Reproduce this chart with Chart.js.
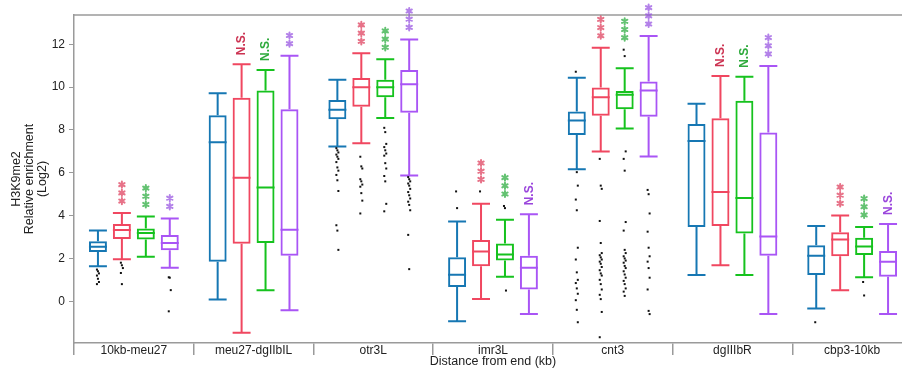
<!DOCTYPE html>
<html>
<head>
<meta charset="utf-8">
<script src="https://cdn.jsdelivr.net/npm/chart.js@4.4.1/dist/chart.umd.min.js"></script>
<style>
  html, body { margin: 0; padding: 0; background: #fff; overflow: hidden; }
  #wrap { width: 914px; height: 370px; }
</style>
</head>
<body>
<div id="wrap"><canvas id="c" width="914" height="370"></canvas></div>
<script>
// H3K9me2 enrichment box plots per region, 4 strains each
const categories = ["10kb-meu27", "meu27-dgIIbIL", "otr3L", "imr3L", "cnt3", "dgIIIbR", "cbp3-10kb"];

// [lower whisker, q1, median, q3, upper whisker]
const blueBox = [
  [1.63, 2.30, 2.55, 2.80, 3.31], [0.08, 1.85, 7.43, 8.69, 9.72], [7.23, 8.50, 8.94, 9.40, 10.34],
  [-0.93, 0.67, 1.24, 2.05, 3.73], [6.17, 7.77, 8.44, 8.86, 10.44], [1.23, 3.47, 7.48, 8.28, 9.22],
  [-0.34, 1.23, 2.13, 2.61, 3.52],
];
const redBox = [
  [1.96, 2.91, 3.33, 3.61, 4.12], [-1.47, 2.68, 5.77, 9.50, 11.07], [7.38, 9.09, 10.0, 10.43, 11.58],
  [0.11, 1.63, 2.32, 2.86, 4.55], [6.99, 8.67, 9.53, 9.98, 11.84], [1.68, 3.52, 5.10, 8.55, 10.52],
  [0.51, 2.10, 2.88, 3.22, 4.01],
];
const greenBox = [
  [2.08, 2.88, 3.19, 3.40, 3.96], [0.51, 2.72, 5.31, 9.84, 10.80], [8.56, 9.53, 10.0, 10.34, 11.30],
  [1.14, 1.90, 2.18, 2.70, 3.81], [8.07, 8.97, 9.65, 9.82, 10.88], [1.23, 3.16, 4.82, 9.37, 10.48],
  [1.12, 2.16, 2.56, 2.97, 3.47],
];
const purpleBox = [
  [1.56, 2.38, 2.72, 3.10, 3.87], [-0.42, 2.13, 3.34, 8.97, 11.47], [5.87, 8.81, 10.13, 10.80, 12.23],
  [-0.59, 0.55, 1.56, 2.13, 4.06], [6.76, 8.62, 9.84, 10.26, 12.39], [-0.60, 2.13, 3.02, 7.88, 10.99],
  [-0.60, 1.15, 1.85, 2.35, 3.61],
];

// outliers per region
const blueOut = [
  [1.48, 1.4, 1.3, 1.2, 1.05, 0.9, 0.8], [],
  [7.15, 7.05, 6.95, 6.85, 6.75, 6.65, 6.5, 6.25, 6.1, 5.9, 5.65, 5.15, 3.55, 3.3, 2.4],
  [5.13, 4.35],
  [10.72, 6.03, 5.4, 4.75, 4.25, 2.5, 1.95, 1.35, 1.0, 0.85, 0.6, 0.35, 0.05, -0.4, -0.98],
  [], [-0.98],
];
const redOut = [
  [1.8, 1.68, 1.55, 1.32, 0.8], [],
  [6.75, 6.3, 6.2, 5.7, 5.6, 5.45, 5.35, 5.05, 4.7, 4.1],
  [5.13],
  [6.65, 5.4, 5.25, 3.75, 2.72, 2.25, 2.15, 2.05, 1.95, 1.85, 1.75, 1.6, 1.45, 1.3, 1.2, 1.0, 0.8, 0.55, 0.3, 0.1, -0.5, -1.68],
  [], [],
];
const greenOut = [
  [], [],
  [8.1, 7.9, 7.35, 7.2, 7.05, 6.9, 6.8, 6.45, 6.2, 5.85, 5.6, 4.55, 4.2],
  [4.45, 4.35, 0.5],
  [11.75, 11.45, 7.0, 6.65, 6.1, 3.7, 3.3, 2.4, 2.25, 2.1, 2.0, 1.9, 1.8, 1.65, 1.55, 1.4, 1.25, 1.1, 0.95, 0.8, 0.6, 0.45, 0.25],
  [], [0.9, 0.27],
];
const purpleOut = [
  [1.12, 1.1, 0.52, -0.47], [],
  [5.8, 5.7, 5.6, 5.5, 5.4, 5.25, 5.1, 4.95, 4.8, 4.65, 4.5, 4.25, 3.1, 1.5],
  [],
  [5.2, 5.0, 4.1, 3.25, 2.5, 2.1, 1.85, 1.55, 1.1, 0.55, -0.45, -0.6],
  [], [],
];

// significance vs. the blue strain
const blueSig = ["", "", "", "", "", "", ""];
const redSig = ["***", "N.S.", "***", "***", "***", "N.S.", "***"];
const greenSig = ["***", "N.S.", "***", "***", "***", "N.S.", "***"];
const purpleSig = ["**", "**", "***", "N.S.", "***", "***", "N.S."];

const yTicks = [0, 2, 4, 6, 8, 10, 12];

const SERIES = [
  { box: blueBox, out: blueOut, sig: blueSig, color: "#1677b3", star: "rgba(22,119,179,0.7)", ns: "#1677b3" },
  { box: redBox, out: redOut, sig: redSig, color: "#f04760", star: "rgba(222,60,90,0.72)", ns: "#cc3352" },
  { box: greenBox, out: greenOut, sig: greenSig, color: "#16c21e", star: "rgba(40,170,60,0.72)", ns: "#2eaa3c" },
  { box: purpleBox, out: purpleOut, sig: purpleSig, color: "#a955f5", star: "rgba(150,80,225,0.72)", ns: "#9a45dc" },
];

const AXIS = "#9a9a9a";
const FONT = "'Liberation Sans', Arial, Helvetica, sans-serif";

// whiskers, medians, outliers and significance marks on top of the floating bars
const boxPlot = {
  id: "boxPlot",
  afterDatasetsDraw(chart) {
    const { ctx, chartArea, scales: { y } } = chart;
    const py = (v) => y.getPixelForValue(v);

    // top frame line
    ctx.save();
    ctx.strokeStyle = AXIS; ctx.lineWidth = 1.5;
    ctx.beginPath(); ctx.moveTo(chartArea.left, chartArea.top); ctx.lineTo(chartArea.right, chartArea.top); ctx.stroke();
    ctx.restore();

    SERIES.forEach((s, i) => {
      chart.getDatasetMeta(i).data.forEach((bar, k) => {
        const [lo, q1, med, q3, hi] = s.box[k];
        const x = bar.x, half = bar.width / 2;
        ctx.save();
        ctx.strokeStyle = s.color; ctx.lineWidth = 2;
        ctx.beginPath();
        ctx.moveTo(x, py(q3)); ctx.lineTo(x, py(hi));
        ctx.moveTo(x, py(q1)); ctx.lineTo(x, py(lo));
        ctx.moveTo(x - half, py(hi)); ctx.lineTo(x + half, py(hi));
        ctx.moveTo(x - half, py(lo)); ctx.lineTo(x + half, py(lo));
        ctx.moveTo(x - half, py(med)); ctx.lineTo(x + half, py(med));
        ctx.stroke();

        ctx.fillStyle = "#111";
        s.out[k].forEach((v, j) => {
          ctx.fillRect(x - 1 + ((j % 3) - 1), py(v) - 1, 2, 2);
        });

        const label = s.sig[k];
        const top = py(Math.max(hi, ...s.out[k]));
        if (label.startsWith("*")) {
          ctx.strokeStyle = s.star; ctx.lineWidth = 2; ctx.lineCap = "round";
          for (let n = 0; n < label.length; n++) {
            const cy = top - 12 - n * 8.2, r = 3.1;
            ctx.beginPath();
            [90, 30, 150].forEach((a) => {
              const rad = (a * Math.PI) / 180;
              ctx.moveTo(x + r * Math.cos(rad), cy - r * Math.sin(rad));
              ctx.lineTo(x - r * Math.cos(rad), cy + r * Math.sin(rad));
            });
            ctx.stroke();
          }
        } else if (label) {
          ctx.translate(x, top - 9);
          ctx.rotate(-Math.PI / 2);
          ctx.fillStyle = s.ns;
          ctx.font = "bold 12px " + FONT;
          ctx.textAlign = "left"; ctx.textBaseline = "middle";
          ctx.fillText(label, 0, 0.5);
        }
        ctx.restore();
      });
    });
  },
};

new Chart(document.getElementById("c"), {
  type: "bar",
  data: {
    labels: categories,
    datasets: SERIES.map((s) => ({
      data: s.box.map((b) => [b[1], b[3]]),
      borderColor: s.color, backgroundColor: "rgba(255,255,255,0)",
      borderWidth: 2, borderSkipped: false,
      barPercentage: 0.75, categoryPercentage: 0.8,
    })),
  },
  options: {
    responsive: false, animation: false, devicePixelRatio: 1,
    layout: { padding: { top: 15, right: 2, left: 0, bottom: 0 } },
    plugins: { legend: { display: false }, tooltip: { enabled: false } },
    scales: {
      x: {
        afterFit: (s) => { s.height = 27; },
        grid: { offset: true, drawOnChartArea: false, tickLength: 12, color: AXIS, lineWidth: 1.5 },
        border: { color: AXIS, width: 1.5 },
        ticks: { padding: -12, color: "#222", font: { family: FONT, size: 12 } },
        title: {
          display: true, text: "Distance from end (kb)", color: "#222",
          font: { family: FONT, size: 12.5 }, padding: { top: 0, bottom: 1 },
        },
      },
      y: {
        min: -1.95, max: 13.37,
        afterFit: (s) => { s.width = 74; },
        afterBuildTicks: (s) => { s.ticks = yTicks.map((v) => ({ value: v })); },
        grid: { drawOnChartArea: false, tickLength: 5, color: AXIS },
        border: { color: AXIS, width: 1.5 },
        ticks: { padding: 4, color: "#222", font: { family: FONT, size: 12 } },
        title: {
          display: true, text: ["H3K9me2", "Relative enrichment", "(Log2)"], color: "#222",
          font: { family: FONT, size: 12.5, lineHeight: 1.05 }, padding: { top: 10, bottom: 0 },
        },
      },
    },
  },
  plugins: [boxPlot],
});
</script>
</body>
</html>
